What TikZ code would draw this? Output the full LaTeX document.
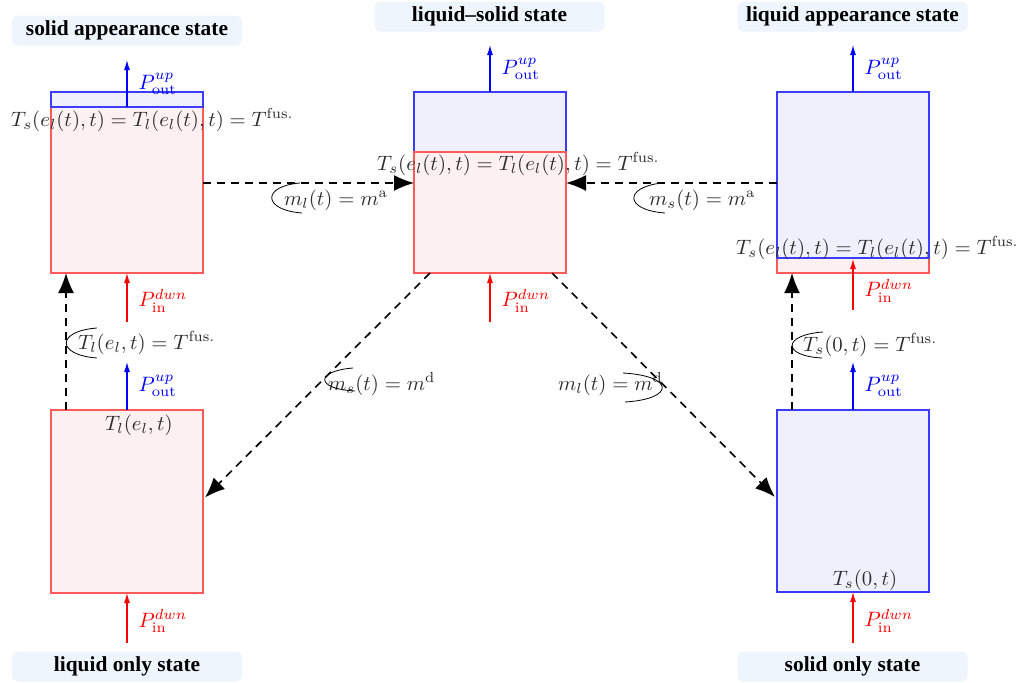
\documentclass[tikz,border=0pt]{standalone}
\usepackage{fontspec}
\newfontfamily\titlefont{Liberation Serif}
\usetikzlibrary{arrows.meta,calc}
\definecolor{titlebg}{RGB}{238,245,252}
\definecolor{redfill}{RGB}{253,240,240}
\definecolor{bluefill}{RGB}{240,240,252}
\definecolor{redline}{RGB}{255,90,90}
\definecolor{blueline}{RGB}{60,60,255}
\definecolor{labgray}{RGB}{45,45,45}
\newcommand{\Lbl}[1]{\scalebox{2.08}{$#1$}}
\tikzset{
  redbox/.style={draw=redline, fill=redfill, line width=1.1pt, inner sep=0pt, outer sep=0pt, minimum width=152pt, anchor=north west},
  bluebox/.style={draw=blueline, fill=bluefill, line width=1.1pt, inner sep=0pt, outer sep=0pt, minimum width=152pt, anchor=north west},
  titlebox/.style={fill=titlebg, rounded corners=6pt, minimum width=230pt, minimum height=30pt, inner sep=0pt, font=\titlefont\bfseries\fontsize{21.4}{24}\selectfont},
  flow/.style={dash pattern=on 8pt off 6pt, line width=1.6pt, -{Latex[length=20pt,width=16pt]}},
  pup/.style={blue, line width=1.1pt, -{Latex[length=10pt,width=6pt]}},
  pdn/.style={red, line width=1.1pt, -{Latex[length=10pt,width=6pt]}},
  lab/.style={text=labgray, inner sep=1pt},
  plab/.style={inner sep=1pt, anchor=west},
  callout/.style={line width=0.8pt, black},
}
\begin{document}
\begin{tikzpicture}[x=1pt,y=-1pt]
\useasboundingbox (0,0) rectangle (1021,683);

% titles
\node[titlebox] (t1) at (127,30.5) {solid appearance state};
\node[titlebox] (t2) at (489.5,16.5) {liquid\textendash solid state};
\node[titlebox] (t3) at (852.5,16.5) {liquid appearance state};
\node[titlebox] (t4) at (127,666.5) {liquid only state};
\node[titlebox] (t5) at (852.5,666.5) {solid only state};

% boxes
\node[redbox, minimum height=166pt] (Sar) at (51,107) {};
\node[bluebox, minimum height=15pt] (Sab) at (51,92) {};
\node[bluebox, minimum height=60pt] (LSb) at (414,92) {};
\node[redbox, minimum height=121pt] (LSr) at (414,152) {};
\node[redbox, minimum height=15pt] (Lar) at (777,258) {};
\node[bluebox, minimum height=166pt] (Lab) at (777,92) {};
\node[redbox, minimum height=183pt] (Lo) at (51,410) {};
\node[bluebox, minimum height=182pt] (So) at (777,410) {};

% interface labels
\node[lab, anchor=west] (i1) at (10,120) {\Lbl{T_s(e_l(t),t) = T_l(e_l(t),t) = T^{\mathrm{fus.}}}};
\node[lab, anchor=west] (i2) at (376,164) {\Lbl{T_s(e_l(t),t) = T_l(e_l(t),t) = T^{\mathrm{fus.}}}};
\node[lab, anchor=west] (i3) at (735,248) {\Lbl{T_s(e_l(t),t) = T_l(e_l(t),t) = T^{\mathrm{fus.}}}};
\node[lab] (b1) at (139,425) {\Lbl{T_l(e_l,t)}};
\node[lab] (b2) at (865,580) {\Lbl{T_s(0,t)}};

% power arrows
\draw[pup] (Sar.north) -- ++(0,-47) node[midway, plab, xshift=10pt, blue] (p1) {\Lbl{P^{up}_{\mathrm{out}}}};
\draw[pup] (LSb.north) -- ++(0,-47) node[midway, plab, xshift=10pt, blue] (p2) {\Lbl{P^{up}_{\mathrm{out}}}};
\draw[pup] (Lab.north) -- ++(0,-47) node[midway, plab, xshift=10pt, blue] (p3) {\Lbl{P^{up}_{\mathrm{out}}}};
\draw[pup] (Lo.north) -- ++(0,-48) node[midway, plab, xshift=10pt, blue] (p4) {\Lbl{P^{up}_{\mathrm{out}}}};
\draw[pup] (So.north) -- ++(0,-48) node[midway, plab, xshift=10pt, blue] (p5) {\Lbl{P^{up}_{\mathrm{out}}}};

\coordinate (q1) at ($(Sar.south)+(0,49)$);
\coordinate (q2) at ($(LSr.south)+(0,49)$);
\coordinate (q3) at ($(Lar.north)+(0,52)$);
\coordinate (q4) at ($(Lo.south)+(0,50)$);
\coordinate (q5) at ($(So.south)+(0,51)$);
\draw[pdn] (q1) -- (Sar.south) node[midway, plab, xshift=10pt, red, yshift=-3pt] (d1) {\Lbl{P^{dwn}_{\mathrm{in}}}};
\draw[pdn] (q2) -- (LSr.south) node[midway, plab, xshift=10pt, red, yshift=-3pt] (d2) {\Lbl{P^{dwn}_{\mathrm{in}}}};
\draw[pdn] (q3) -- ($(Lar.north)+(0,1)$) node[midway, plab, xshift=10pt, red, yshift=-6pt] (d3) {\Lbl{P^{dwn}_{\mathrm{in}}}};
\draw[pdn] (q4) -- (Lo.south) node[midway, plab, xshift=10pt, red, yshift=-3pt] (d4) {\Lbl{P^{dwn}_{\mathrm{in}}}};
\draw[pdn] (q5) -- (So.south) node[midway, plab, xshift=10pt, red, yshift=-3pt] (d5) {\Lbl{P^{dwn}_{\mathrm{in}}}};

% transitions
\coordinate (hy) at (0,183);
\coordinate (vl) at (66,0);
\coordinate (vr) at (792,0);
\draw[flow] (Sar.east |- hy) -- (LSr.west |- hy);
\draw[flow] (Lab.west |- hy) -- (LSr.east |- hy);
\draw[flow] (Lo.north -| vl) -- (Sar.south -| vl);
\draw[flow] (So.north -| vr) -- (Lar.south -| vr);
\draw[flow] ($(LSr.south west)+(16,0)$) -- ($(Lo.east)+(2,-4)$);
\draw[flow] ($(LSr.south east)+(-14,0)$) -- ($(So.west)+(-2,-4)$);

% transition labels with callouts
\node[lab, anchor=west] (c1) at (283,200) {\Lbl{m_l(t) = m^{\mathrm{a}}}};
\draw[callout] (300,183) .. controls (262,186) and (262,210) .. (302,213);
\node[lab, anchor=west] (c2) at (648,200) {\Lbl{m_s(t) = m^{\mathrm{a}}}};
\draw[callout] (662,183) .. controls (624,187) and (624,210) .. (665,213);
\node[lab, anchor=west] (c3) at (77,343) {\Lbl{T_l(e_l,t) = T^{\mathrm{fus.}}}};
\draw[callout] (97,328) .. controls (56,331) and (56,355) .. (97,358);
\node[lab, anchor=west] (c4) at (802,345) {\Lbl{T_s(0,t) = T^{\mathrm{fus.}}}};
\draw[callout] (823,332) .. controls (782,335) and (782,356) .. (822,358);
\node[lab, anchor=west] (c5) at (327,384) {\Lbl{m_s(t) = m^{\mathrm{d}}}};
\draw[callout] (353,368) .. controls (315,371) and (315,389) .. (355,391);
\node[lab, anchor=west] (c6) at (557,384) {\Lbl{m_l(t) = m^{\mathrm{d}}}};
\draw[callout] (623,373) .. controls (675,376) and (675,399) .. (625,402);
\end{tikzpicture}
\end{document}
